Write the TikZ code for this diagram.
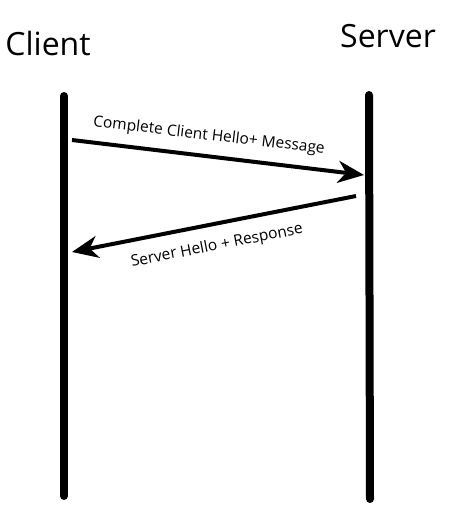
\documentclass[tikz,border=0pt]{standalone}
\usepackage{fontspec}
\setmainfont{Open Sans}
\usetikzlibrary{arrows.meta}
\begin{document}
\begin{tikzpicture}[x=1pt,y=-1pt,
  lifeline/.style={line width=8pt, line cap=round},
  msg/.style={line width=4pt, -{Stealth[length=26pt,width=22pt,inset=8pt]}},
  title/.style={anchor=base, inner sep=0pt, font=\fontsize{32}{36}\selectfont},
  msglabel/.style={inner sep=0pt, font=\fontsize{15.5}{18}\selectfont}]
\useasboundingbox (0,0) rectangle (450,522);
\fill[white] (0,0) rectangle (450,522);
\node[title] (client) at (48,55) {Client};
\node[title] (server) at (388,47) {Server};
\coordinate (ctop) at (64,96);
\coordinate (cbot) at (64,496);
\coordinate (stop) at (369,95);
\coordinate (sbot) at (370,499);
\draw[lifeline] (ctop) -- (cbot);
\draw[lifeline] (stop) -- (sbot);
\coordinate (m1s) at (72,140);
\coordinate (m1e) at (364,175);
\coordinate (m2s) at (356,196);
\coordinate (m2e) at (72,252);
\draw[msg] (m1s) -- (m1e);
\draw[msg] (m2s) -- (m2e);
\node[msglabel, rotate=-6.7] (l1) at (209,136) {Complete Client Hello+ Message};
\node[msglabel, rotate=11] (l2) at (217,246) {Server Hello + Response};
\end{tikzpicture}
\end{document}
